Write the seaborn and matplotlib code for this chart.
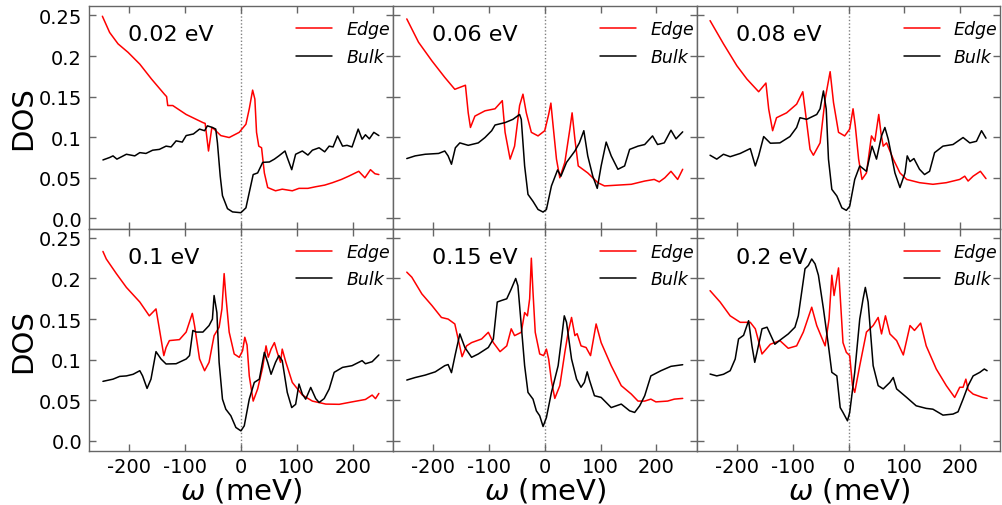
import matplotlib
matplotlib.use("Agg")
import matplotlib.pyplot as plt
import seaborn as sns
import pandas as pd

# Photon energies of the six panels
energies = ["0.02 eV", "0.06 eV", "0.08 eV", "0.1 eV", "0.15 eV", "0.2 eV"]

# ---- 0.02 eV ----
edge_x_002 = [-248, -235, -220, -202, -181, -160, -137, -133, -131, -122, -98, -68, -64, -58, -52, -48, -36, -21, -3, 9,
              15, 21, 25, 28, 32, 37, 42, 48, 62, 74, 92, 104, 120, 134, 150, 164, 180, 193, 211, 222, 232, 240, 247]
edge_y_002 = [0.249, 0.229, 0.215, 0.2045, 0.19, 0.1716, 0.153, 0.15, 0.139, 0.139, 0.128, 0.118, 0.117, 0.083, 0.112,
              0.11, 0.102, 0.0996, 0.106, 0.116, 0.135, 0.158, 0.147, 0.106, 0.089, 0.087, 0.056, 0.038, 0.034, 0.036,
              0.034, 0.037, 0.037, 0.039, 0.041, 0.044, 0.048, 0.052, 0.058, 0.05, 0.06, 0.055, 0.054]
bulk_x_002 = [-247, -235, -229, -222, -205, -190, -181, -170, -158, -146, -134, -125, -116, -105, -98, -85, -74, -65,
              -60, -51, -45, -42, -37, -33, -24, -15, 0, 9, 15, 22, 30, 39, 51, 60, 68, 79, 83, 91, 98, 110, 120, 128,
              140, 150, 158, 165, 173, 182, 190, 199, 210, 217, 223, 230, 238, 247]
bulk_y_002 = [0.072, 0.075, 0.077, 0.073, 0.079, 0.077, 0.081, 0.080, 0.084, 0.085, 0.089, 0.088, 0.0955, 0.094, 0.102,
              0.104, 0.11, 0.108, 0.114, 0.112, 0.11, 0.093, 0.052, 0.028, 0.012, 0.008, 0.007, 0.013, 0.032, 0.054,
              0.056, 0.069, 0.0695, 0.073, 0.077, 0.083, 0.075, 0.06, 0.079, 0.083, 0.078, 0.084, 0.087, 0.082, 0.089,
              0.088, 0.1016, 0.089, 0.09, 0.088, 0.11, 0.0975, 0.103, 0.098, 0.106, 0.102]

# ---- 0.06 eV ----
edge_x_006 = [-247, -226, -202, -179, -161, -142, -137, -133, -125, -107, -89, -76, -71, -62, -54, -45, -39, -33, -24,
              -12, 0, 7, 11, 15, 21, 27, 36, 45, 49, 54, 60, 77, 95, 107, 131, 155, 179, 196, 205, 215, 226, 238, 247]
edge_y_006 = [0.2457, 0.217, 0.194, 0.1737, 0.159, 0.164, 0.130, 0.112, 0.126, 0.1325, 0.135, 0.145, 0.106, 0.073,
              0.089, 0.139, 0.153, 0.130, 0.106, 0.1016, 0.108, 0.128, 0.142, 0.114, 0.073, 0.050, 0.069, 0.11, 0.130,
              0.0975, 0.0646, 0.056, 0.044, 0.040, 0.041, 0.042, 0.046, 0.048, 0.045, 0.050, 0.058, 0.048, 0.0605]
bulk_x_006 = [-247, -232, -214, -190, -179, -173, -167, -160, -152, -137, -119, -107, -95, -89, -71, -57, -45, -42,
              -36, -30, -21, -12, -3, 3, 12, 23, 29, 39, 54, 62, 70, 77, 86, 94, 101, 110, 119, 131, 143, 152, 167,
              179, 193, 202, 214, 226, 235, 247]
bulk_y_006 = [0.0737, 0.077, 0.079, 0.080, 0.083, 0.077, 0.0667, 0.087, 0.093, 0.090, 0.093, 0.0996, 0.108, 0.115,
              0.118, 0.122, 0.128, 0.122, 0.0646, 0.0296, 0.021, 0.011, 0.0078, 0.011, 0.040, 0.0597, 0.052, 0.069,
              0.083, 0.093, 0.108, 0.077, 0.052, 0.037, 0.0646, 0.094, 0.077, 0.0605, 0.0646, 0.085, 0.089, 0.091,
              0.1016, 0.091, 0.093, 0.1086, 0.098, 0.1066]

# ---- 0.08 eV ----
edge_x_008 = [-248, -224, -200, -182, -161, -148, -143, -136, -129, -111, -93, -82, -78, -69, -63, -51, -42, -33, -27,
              -18, -7, 2, 8, 12, 18, 24, 32, 41, 47, 54, 58, 62, 68, 80, 92, 104, 127, 151, 175, 199, 208, 214, 223,
              236, 246]
edge_y_008 = [0.2436, 0.215, 0.188, 0.1716, 0.156, 0.1667, 0.1346, 0.108, 0.124, 0.130, 0.1407, 0.156, 0.1346, 0.085,
              0.0778, 0.093, 0.147, 0.1807, 0.1428, 0.106, 0.1016, 0.11, 0.135, 0.114, 0.073, 0.048, 0.056, 0.1016,
              0.095, 0.128, 0.105, 0.089, 0.093, 0.073, 0.056, 0.048, 0.044, 0.042, 0.044, 0.048, 0.052, 0.046, 0.052,
              0.058, 0.049]
bulk_x_008 = [-248, -236, -224, -212, -194, -176, -167, -161, -152, -140, -123, -105, -93, -87, -75, -57, -51, -45,
              -40, -36, -30, -21, -12, -4, 2, 11, 20, 32, 42, 50, 59, 65, 71, 83, 92, 101, 105, 110, 117, 127, 136,
              145, 154, 169, 187, 205, 217, 229, 238, 246]
bulk_y_008 = [0.0778, 0.073, 0.079, 0.076, 0.080, 0.086, 0.0646, 0.077, 0.1008, 0.0926, 0.093, 0.1008, 0.112, 0.124,
              0.122, 0.128, 0.135, 0.157, 0.1346, 0.073, 0.0358, 0.0276, 0.013, 0.0099, 0.015, 0.048, 0.0646, 0.058,
              0.089, 0.073, 0.1016, 0.112, 0.0975, 0.056, 0.038, 0.056, 0.077, 0.070, 0.0737, 0.0605, 0.054, 0.058,
              0.081, 0.089, 0.091, 0.0996, 0.093, 0.095, 0.108, 0.0988]

# ---- 0.1 eV ----
edge_x_010 = [-247, -241, -223, -205, -181, -164, -152, -146, -138, -134, -128, -110, -98, -87, -83, -74, -65, -57,
              -48, -39, -34, -30, -27, -21, -12, -3, 3, 7, 11, 15, 22, 30, 39, 45, 49, 54, 60, 65, 71, 74, 80, 92,
              110, 128, 152, 176, 199, 223, 235, 241, 247]
edge_y_010 = [0.2333, 0.224, 0.206, 0.189, 0.171, 0.154, 0.1625, 0.138, 0.105, 0.115, 0.1235, 0.1247, 0.134, 0.157,
              0.142, 0.1008, 0.0864, 0.0967, 0.1296, 0.14, 0.1625, 0.206, 0.179, 0.134, 0.107, 0.1029, 0.111, 0.1276,
              0.118, 0.080, 0.049, 0.064, 0.0905, 0.117, 0.103, 0.113, 0.121, 0.109, 0.0967, 0.113, 0.098, 0.072,
              0.0564, 0.049, 0.0453, 0.045, 0.048, 0.051, 0.0564, 0.052, 0.0584]
bulk_x_010 = [-247, -229, -217, -205, -193, -181, -176, -168, -161, -152, -143, -134, -116, -98, -92, -86, -80, -68,
              -57, -51, -48, -43, -39, -33, -27, -18, -9, 0, 6, 15, 24, 33, 42, 48, 54, 62, 68, 74, 83, 91, 98, 104,
              110, 116, 125, 134, 140, 149, 158, 167, 182, 199, 217, 223, 235, 247]
bulk_y_010 = [0.0733, 0.076, 0.0794, 0.080, 0.082, 0.0864, 0.080, 0.0646, 0.076, 0.1099, 0.1008, 0.0947, 0.095,
              0.1008, 0.105, 0.136, 0.134, 0.134, 0.142, 0.150, 0.179, 0.158, 0.0967, 0.0514, 0.039, 0.0309, 0.0165,
              0.0123, 0.0185, 0.0514, 0.072, 0.076, 0.109, 0.0967, 0.082, 0.0967, 0.105, 0.0988, 0.0597, 0.041, 0.045,
              0.070, 0.0576, 0.0514, 0.0658, 0.052, 0.0473, 0.052, 0.0638, 0.0844, 0.0905, 0.0926, 0.0988, 0.095,
              0.0975, 0.1058]

# ---- 0.15 eV ----
edge_x_015 = [-247, -238, -220, -202, -185, -173, -161, -155, -148, -140, -131, -113, -101, -92, -80, -68, -60, -54,
              -42, -36, -31, -27, -24, -21, -17, -9, -2, 3, 7, 12, 18, 27, 36, 42, 48, 54, 58, 65, 74, 82, 92, 101,
              119, 137, 155, 167, 179, 190, 199, 220, 232, 247]
edge_y_015 = [0.2078, 0.2016, 0.181, 0.1667, 0.152, 0.150, 0.144, 0.1255, 0.1037, 0.117, 0.121, 0.1255, 0.1337, 0.121,
              0.1099, 0.117, 0.138, 0.1296, 0.1337, 0.158, 0.154, 0.175, 0.225, 0.183, 0.1337, 0.107, 0.105, 0.113,
              0.1008, 0.074, 0.0523, 0.068, 0.109, 0.134, 0.152, 0.1296, 0.132, 0.117, 0.115, 0.105, 0.144, 0.121,
              0.0926, 0.068, 0.0576, 0.049, 0.049, 0.0514, 0.048, 0.049, 0.0514, 0.0523]
bulk_x_015 = [-247, -232, -214, -196, -179, -173, -167, -160, -152, -143, -131, -119, -101, -92, -85, -77, -68, -60,
              -52, -48, -42, -36, -30, -21, -15, -9, -3, 3, 12, 24, 30, 35, 39, 48, 57, 65, 71, 76, 80, 89, 101, 119,
              137, 152, 161, 170, 179, 190, 208, 226, 247]
bulk_y_015 = [0.0749, 0.078, 0.081, 0.085, 0.0926, 0.094, 0.084, 0.107, 0.1317, 0.115, 0.1029, 0.107, 0.115, 0.1255,
              0.171, 0.173, 0.175, 0.187, 0.200, 0.191, 0.142, 0.0926, 0.0597, 0.0514, 0.037, 0.0309, 0.0177, 0.0288,
              0.0597, 0.0926, 0.1255, 0.154, 0.146, 0.1008, 0.076, 0.066, 0.072, 0.085, 0.075, 0.0556, 0.0535, 0.041,
              0.0453, 0.037, 0.035, 0.0432, 0.0556, 0.080, 0.0864, 0.0918, 0.0938]

# ---- 0.2 eV ----
edge_x_020 = [-248, -230, -212, -194, -176, -167, -155, -140, -123, -108, -93, -81, -66, -57, -42, -35, -30, -26, -18,
              -14, -10, -4, 2, 7, 11, 20, 32, 44, 53, 59, 66, 74, 86, 98, 110, 118, 129, 139, 157, 175, 190, 199, 205,
              210, 214, 223, 240, 248]
edge_y_020 = [0.185, 0.171, 0.154, 0.146, 0.146, 0.138, 0.107, 0.119, 0.1235, 0.114, 0.117, 0.134, 0.1646, 0.142,
              0.117, 0.150, 0.204, 0.179, 0.213, 0.1667, 0.121, 0.109, 0.105, 0.068, 0.0597, 0.0926, 0.134, 0.142,
              0.152, 0.1317, 0.154, 0.1317, 0.1235, 0.1058, 0.142, 0.136, 0.145, 0.117, 0.0885, 0.068, 0.0535, 0.066,
              0.066, 0.076, 0.063, 0.0576, 0.0535, 0.0523]
bulk_x_020 = [-248, -236, -224, -212, -203, -197, -188, -179, -173, -168, -164, -155, -146, -132, -120, -108, -96, -90,
              -78, -72, -66, -60, -54, -45, -36, -30, -21, -15, -10, -2, 2, 11, 20, 26, 30, 35, 44, 53, 62, 74, 80, 86,
              104, 121, 139, 151, 169, 187, 196, 205, 214, 223, 235, 243, 248]
bulk_y_020 = [0.0823, 0.080, 0.082, 0.0864, 0.1008, 0.1255, 0.130, 0.148, 0.117, 0.0967, 0.109, 0.138, 0.140, 0.119,
              0.1255, 0.1317, 0.140, 0.154, 0.212, 0.216, 0.224, 0.218, 0.204, 0.1626, 0.117, 0.0844, 0.080, 0.041,
              0.035, 0.0247, 0.035, 0.0844, 0.150, 0.175, 0.189, 0.171, 0.0926, 0.068, 0.064, 0.072, 0.078, 0.064,
              0.0535, 0.0432, 0.040, 0.039, 0.0317, 0.033, 0.0358, 0.0514, 0.068, 0.080, 0.0844, 0.0885, 0.0864]

x_ticks = [-200, -100, 0, 100, 200]
y_ticks = [0.0, 0.05, 0.1, 0.15, 0.2, 0.25]
y_tick_labels = ["0.0", "0.05", "0.1", "0.15", "0.2", "0.25"]

edge_sets = [(edge_x_002, edge_y_002), (edge_x_006, edge_y_006), (edge_x_008, edge_y_008),
             (edge_x_010, edge_y_010), (edge_x_015, edge_y_015), (edge_x_020, edge_y_020)]
bulk_sets = [(bulk_x_002, bulk_y_002), (bulk_x_006, bulk_y_006), (bulk_x_008, bulk_y_008),
             (bulk_x_010, bulk_y_010), (bulk_x_015, bulk_y_015), (bulk_x_020, bulk_y_020)]

sns.set_style("ticks")
plt.rcParams["font.family"] = ["DejaVu Sans"]
plt.rcParams["mathtext.fontset"] = "dejavusans"
plt.rcParams["axes.unicode_minus"] = False
plt.rcParams["text.color"] = "black"
plt.rcParams["axes.labelcolor"] = "black"
plt.rcParams["xtick.labelcolor"] = "black"
plt.rcParams["ytick.labelcolor"] = "black"

fig, axes = plt.subplots(2, 3, figsize=(10.02, 5.06), dpi=100, sharex=True, sharey=True)
fig.subplots_adjust(left=0.0888, right=0.9985, top=0.986, bottom=0.1067, wspace=0, hspace=0)

spine_col = "0.4"
for i, ax in enumerate(axes.flat):
    ex, ey = edge_sets[i]
    bx, by = bulk_sets[i]
    df_e = pd.DataFrame({"omega": ex, "dos": ey})
    df_b = pd.DataFrame({"omega": bx, "dos": by})
    sns.lineplot(data=df_e, x="omega", y="dos", ax=ax, color="#ff0000", lw=1.1,
                 estimator=None, sort=False, label="Edge")
    sns.lineplot(data=df_b, x="omega", y="dos", ax=ax, color="black", lw=1.1,
                 estimator=None, sort=False, label="Bulk")
    ax.axvline(0, color="0.5", lw=1.0, ls=(0, (1, 1.5)), zorder=0)

    ax.set_xlim(-272, 272)
    ax.set_ylim(-0.0125, 0.2615)
    ax.set_xticks(x_ticks)
    ax.set_yticks(y_ticks)
    ax.set_yticklabels(y_tick_labels)
    ax.tick_params(direction="in", top=True, right=True, length=5, width=1,
                   color=spine_col, labelsize=14, pad=5)
    ax.tick_params(axis="x", pad=4)
    for s in ax.spines.values():
        s.set_color(spine_col)
        s.set_linewidth(1.0)

    ax.text(0.128, 0.874, energies[i], transform=ax.transAxes, fontsize=16, va="center", ha="left")
    ax.legend(loc="upper right", bbox_to_anchor=(1.008, 0.96), frameon=False,
              prop={"style": "italic", "size": 12.5},
              handlelength=2.1, handletextpad=0.8, borderaxespad=0.0, labelspacing=0.55,
              borderpad=0.3)

    ax.set_xlabel("")
    ax.set_ylabel("")
    if i % 3 == 0:
        ax.set_ylabel("DOS", fontsize=21, labelpad=1)
    if i >= 3:
        ax.set_xlabel(r"$\omega$ (meV)", fontsize=21, labelpad=0)

fig.savefig("out.png", dpi=100)
